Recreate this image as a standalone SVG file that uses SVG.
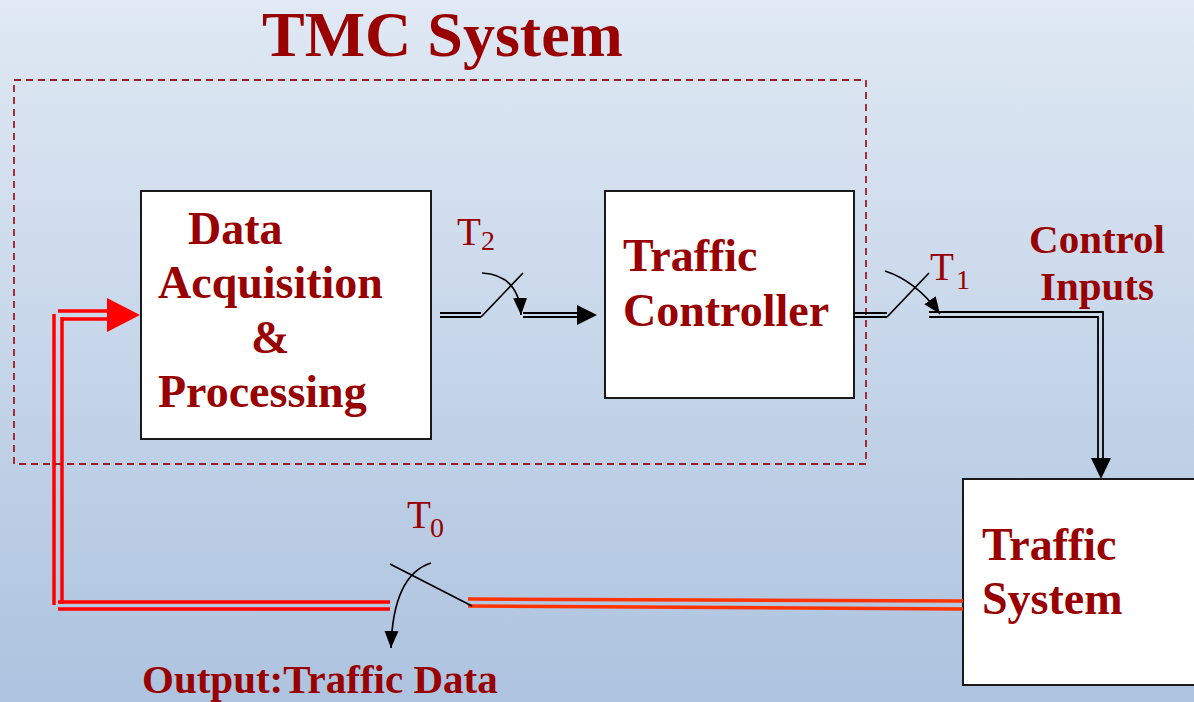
<svg xmlns="http://www.w3.org/2000/svg" width="1194" height="702" viewBox="0 0 1194 702">
  <defs>
    <linearGradient id="bg" x1="0" y1="0" x2="0" y2="1">
      <stop offset="0" stop-color="#e0e9f4"/>
      <stop offset="1" stop-color="#adc3df"/>
    </linearGradient>
    <marker id="tip" markerUnits="userSpaceOnUse" markerWidth="18" markerHeight="18" viewBox="0 0 18 18" refX="17" refY="9" orient="auto">
      <path d="M0,2 L17,9 L0,16 Z" fill="#000"/>
    </marker>
    <style>
      .box { fill: #fff; stroke: #1a1a1a; stroke-width: 2; }
      .lbl { font-family: "Liberation Serif", "Times New Roman", serif; font-weight: bold; fill: #990000; font-size: 46px; }
      .big { font-size: 41px; }
      .tl { font-family: "Liberation Serif", "Times New Roman", serif; fill: #990000; font-size: 39px; }
      .sub { font-size: 28px; }
      .wire { stroke: #000; stroke-width: 1.8; fill: none; }
      .blade { stroke: #000; stroke-width: 1.7; fill: none; }
      .fb { stroke: #ff0000; stroke-width: 3.5; fill: none; }
      .out { stroke: #ff3300; stroke-width: 3.5; fill: none; }
    </style>
  </defs>

  <rect x="0" y="0" width="1194" height="702" fill="url(#bg)"/>

  <!-- TMC system boundary and title -->
  <g id="tmc-system">
    <rect x="14" y="80" width="852" height="384" fill="none" stroke="#a11c22" stroke-width="1.8" stroke-dasharray="7 5"/>
    <text class="lbl" x="262" y="56" style="font-size:64px">TMC System</text>
  </g>

  <g id="data-acquisition">
    <rect class="box" x="141" y="191" width="290" height="248"/>
    <text class="lbl" x="188" y="244">Data</text>
    <text class="lbl" x="158" y="298">Acquisition</text>
    <text class="lbl" x="251" y="353">&amp;</text>
    <text class="lbl" x="158" y="407">Processing</text>
  </g>

  <g id="traffic-controller">
    <rect class="box" x="605" y="191" width="249" height="207"/>
    <text class="lbl" x="623" y="271">Traffic</text>
    <text class="lbl" x="623" y="326">Controller</text>
  </g>

  <g id="traffic-system">
    <rect class="box" x="963" y="479" width="245" height="206"/>
    <text class="lbl" x="982" y="560">Traffic</text>
    <text class="lbl" x="982" y="614">System</text>
  </g>

  <!-- switch and signal labels -->
  <g id="labels">
    <text class="tl" x="457" y="245">T<tspan class="sub" x="481" y="250">2</tspan></text>
    <text class="tl" x="930" y="280">T<tspan class="sub" x="956" y="289">1</tspan></text>
    <text class="tl" x="407" y="528">T<tspan class="sub" x="430" y="537">0</tspan></text>
    <text class="lbl big" x="1097" y="253" text-anchor="middle">Control</text>
    <text class="lbl big" x="1097" y="300" text-anchor="middle">Inputs</text>
    <text class="lbl big" x="142" y="693">Output:Traffic Data</text>
  </g>

  <g id="connectors">
    <!-- T2: acquisition to controller -->
    <path class="wire" d="M440,313 H481 M440,317 H481"/>
    <path class="blade" d="M481,317 L523,273"/>
    <path class="blade" d="M482,273 Q519,275 521,315" marker-end="url(#tip)"/>
    <path class="wire" d="M523,313 H580 M523,317 H580"/>
    <path d="M577,305 L597,315 L577,325 Z" fill="#000"/>

    <!-- T1: controller to traffic system -->
    <path class="wire" d="M854,313 H887 M854,317 H887"/>
    <path class="blade" d="M887,317 L929,273"/>
    <path class="blade" d="M885,271 Q916,281 940,314" marker-end="url(#tip)"/>
    <path class="wire" d="M929,312 H1103 V462 M929,317 H1098 V462"/>
    <path d="M1091,458 L1111,458 L1101,479 Z" fill="#000"/>

    <!-- T0: traffic system output and feedback -->
    <path class="out" d="M468,599 L963,601 M468,606 L963,609"/>
    <path class="blade" d="M390,564 L472,606"/>
    <path class="blade" d="M431,563 Q393,575 391,648" marker-end="url(#tip)"/>
    <path class="fb" d="M390,602 H58 M390,609 H58"/>
    <path class="fb" d="M54,605 V314 M62,604 V317"/>
    <path class="fb" d="M58,311 H110 M63,319 H110"/>
    <path d="M107,298 L140,315 L107,332 Z" fill="#ff0000"/>
  </g>
</svg>
